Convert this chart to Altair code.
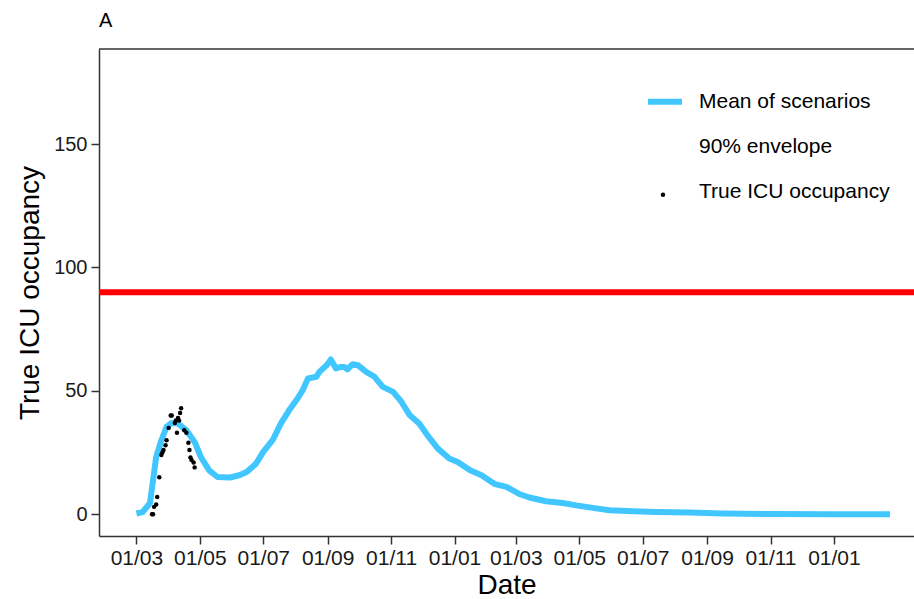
import altair as alt
import pandas as pd

# ---- data ----
mean_dates = [
    "2020-03-01", "2020-03-07", "2020-03-14", "2020-03-17", "2020-03-20", "2020-03-25",
    "2020-03-30", "2020-04-04", "2020-04-10", "2020-04-18", "2020-04-26", "2020-05-02",
    "2020-05-10", "2020-05-18", "2020-05-30", "2020-06-08", "2020-06-15", "2020-06-24",
    "2020-07-01", "2020-07-10", "2020-07-18", "2020-07-26", "2020-08-03", "2020-08-08",
    "2020-08-13", "2020-08-21", "2020-08-24", "2020-08-31", "2020-09-04", "2020-09-09",
    "2020-09-14", "2020-09-17", "2020-09-20", "2020-09-25", "2020-09-30", "2020-10-08",
    "2020-10-16", "2020-10-24", "2020-11-03", "2020-11-11", "2020-11-19", "2020-11-28",
    "2020-12-06", "2020-12-16", "2020-12-27", "2021-01-04", "2021-01-16", "2021-01-27",
    "2021-02-09", "2021-02-20", "2021-03-05", "2021-03-14", "2021-03-30", "2021-04-15",
    "2021-04-28", "2021-05-14", "2021-05-30", "2021-06-22", "2021-07-14", "2021-08-15",
    "2021-09-16", "2021-11-03", "2021-12-28", "2022-02-24",
]
mean_values = [
    0.3, 0.9, 4.5, 13.8, 23.2, 30.0,
    35.4, 37.0, 36.8, 34.0, 29.3, 23.2,
    17.8, 15.1, 14.9, 15.8, 17.1, 20.5,
    25.3, 30.0, 36.8, 42.2, 46.9, 50.3,
    55.0, 55.7, 57.7, 60.4, 62.7, 59.1,
    59.7, 59.7, 58.7, 60.8, 60.4, 57.7,
    55.7, 51.6, 49.6, 45.5, 40.1, 36.8,
    32.0, 26.6, 22.6, 21.2, 17.8, 15.8,
    12.2, 11.1, 8.1, 6.8, 5.3, 4.6,
    3.6, 2.6, 1.6, 1.2, 0.9, 0.7,
    0.3, 0.1, 0.05, 0.0,
]

obs_dates = [
    "2020-03-16", "2020-03-17", "2020-03-18", "2020-03-20", "2020-03-21", "2020-03-23",
    "2020-03-25", "2020-03-26", "2020-03-27", "2020-03-29", "2020-03-30", "2020-04-01",
    "2020-04-03", "2020-04-04", "2020-04-07", "2020-04-08", "2020-04-09", "2020-04-10",
    "2020-04-11", "2020-04-12", "2020-04-13", "2020-04-16", "2020-04-18", "2020-04-20",
    "2020-04-21", "2020-04-22", "2020-04-23", "2020-04-25", "2020-04-26",
]
obs_values = [
    0, 0, 3, 4, 7, 15,
    24, 25, 26, 28, 30, 35,
    40, 40, 37, 38, 33, 39,
    38, 41, 43, 34, 33, 29,
    26, 23, 22, 21, 19,
]

capacity = [90]

x_tick_dates = [
    "2020-03-01", "2020-05-01", "2020-07-01", "2020-09-01", "2020-11-01", "2021-01-01",
    "2021-03-01", "2021-05-01", "2021-07-01", "2021-09-01", "2021-11-01", "2022-01-01",
]
y_ticks = [0, 50, 100, 150]
legend_labels = ["Mean of scenarios", "90% envelope", "True ICU occupancy"]

BLUE = "#42C6FF"
FONT = "Liberation Sans"
W, H = 815, 487

# ---- tables ----
mean_df = pd.DataFrame({"date": mean_dates, "value": mean_values})
obs_df = pd.DataFrame({"date": obs_dates, "value": obs_values})
cap_df = pd.DataFrame({"value": capacity})


def dt(s):
    y, m, d = (int(p) for p in s.split("-"))
    return alt.DateTime(year=y, month=m, date=d, utc=True)


x_enc = alt.X(
    "date:T",
    scale=alt.Scale(type="utc", domain=[dt("2020-01-25"), dt("2022-03-19")], nice=False),
    axis=alt.Axis(
        values=[dt(s) for s in x_tick_dates],
        labelExpr="utcFormat(datum.value, '%d/%m')",
        title="Date", titleFontSize=28, titleFontWeight="normal", titleColor="black",
        titleFont=FONT, titlePadding=3,
        labelFont=FONT, labelFontSize=21, labelColor="#1a1a1a", labelPadding=3,
        labelOverlap=False, labelFlush=False,
        tickSize=8, tickColor="#333333", tickWidth=1.5,
        domainColor="#333333", domainWidth=1.5, grid=False,
    ),
)
y_enc = alt.Y(
    "value:Q",
    scale=alt.Scale(domain=[-8.8, 188.5], nice=False, zero=False),
    axis=alt.Axis(
        values=y_ticks, title="True ICU occupancy", titleFontSize=28,
        titleFontWeight="normal", titleColor="black", titleFont=FONT, titlePadding=9,
        labelFont=FONT, labelFontSize=20, labelColor="#1a1a1a", labelPadding=4,
        tickSize=8, tickColor="#333333", tickWidth=1.5,
        domainColor="#333333", domainWidth=1.5, grid=False,
    ),
)

cap_rule = alt.Chart(cap_df).mark_rule(color="#FF0000", strokeWidth=6).encode(y=y_enc)

mean_line = alt.Chart(mean_df).mark_line(
    strokeWidth=6, strokeJoin="round", color=BLUE
).encode(x=x_enc, y=y_enc)

obs_points = alt.Chart(obs_df).mark_circle(size=20, opacity=1, color="black").encode(
    x=x_enc, y=y_enc
)

top_border = alt.Chart(cap_df).mark_rule(color="#333333", strokeWidth=1.5).encode(
    x=alt.value(0), x2=alt.value(W), y=alt.value(0)
)

# ---- legend (drawn by hand, inside the panel, top right) ----
leg_df = pd.DataFrame({"label": legend_labels})
LEG_TEXT_X = 600
LEG_ROWS = [52.7, 98.3, 142.7]

leg_text = [
    alt.Chart(leg_df.iloc[[i]]).mark_text(
        align="left", baseline="middle", font=FONT, fontSize=21, color="black"
    ).encode(text="label:N", x=alt.value(LEG_TEXT_X), y=alt.value(LEG_ROWS[i]))
    for i in range(3)
]
leg_line = alt.Chart(leg_df.iloc[[0]]).mark_rule(color=BLUE, strokeWidth=6).encode(
    x=alt.value(549), x2=alt.value(583), y=alt.value(LEG_ROWS[0])
)
leg_dot = alt.Chart(leg_df.iloc[[2]]).mark_circle(size=20, opacity=1, color="black").encode(
    x=alt.value(564), y=alt.value(LEG_ROWS[2] + 3)
)

chart = (
    alt.layer(cap_rule, mean_line, obs_points, top_border, leg_line, leg_dot, *leg_text)
    .properties(
        width=W, height=H,
        title=alt.TitleParams("A", anchor="start", frame="group", fontSize=20,
                              fontWeight="normal", font=FONT, color="black", offset=17),
        autosize=alt.AutoSizeParams(type="none"),
        padding={"left": 99, "top": 49, "right": 0, "bottom": 63},
        background="white",
    )
    .configure_view(stroke=None)
)

chart.save("out.html", embed_options={"renderer": "svg", "actions": False})
